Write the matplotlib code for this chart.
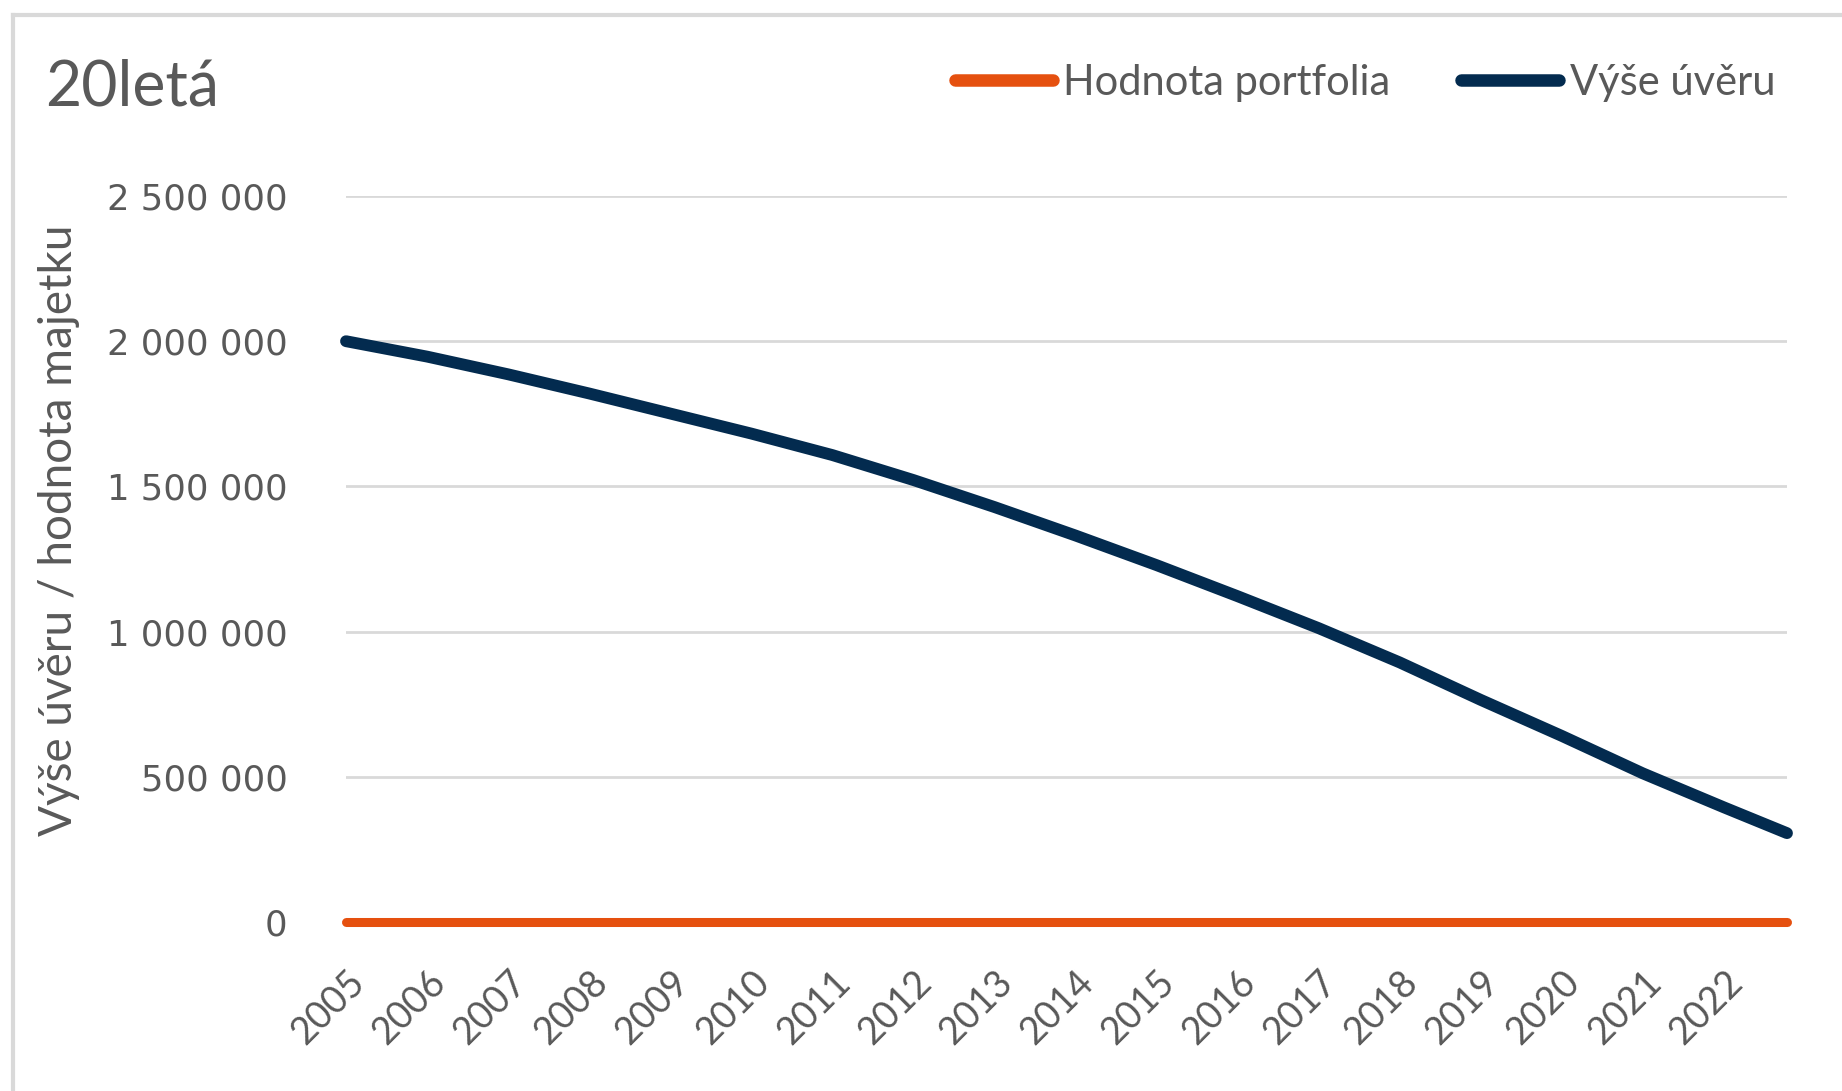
import matplotlib
matplotlib.use("Agg")
import matplotlib.pyplot as plt
from matplotlib.lines import Line2D
from matplotlib.ticker import FuncFormatter

# data (value at the start of each year, last point = end of series)
years = [2005, 2006, 2007, 2008, 2009, 2010, 2011, 2012, 2013, 2014,
         2015, 2016, 2017, 2018, 2019, 2020, 2021, 2022, 2022.78]
loan = [2000000, 1947000, 1886000, 1820000, 1751000, 1682000, 1608000, 1522000,
        1429000, 1331000, 1229000, 1122000, 1012000, 894000, 765000, 641000,
        512000, 395000, 306000]
portfolio = [0] * len(years)
tick_years = list(range(2005, 2023))
y_ticks = [0, 500000, 1000000, 1500000, 2000000, 2500000]

c_orange = '#E5500F'
c_blue = '#032B4F'
c_text = '#595959'
c_grid = '#D9D9D9'

W, H = 1842, 1091
fig = plt.figure(figsize=(W / 100, H / 100), dpi=100)
ax = fig.add_axes([346 / W, 1 - 922 / H, (1787 - 346) / W, (922 - 196) / H])

# outer chart border (cropped on right and bottom)
fig.add_artist(Line2D([13 / W, 13 / W], [0, 1 - 15 / H], color='#D9D9D9', lw=3))
fig.add_artist(Line2D([13 / W, 1], [1 - 15 / H, 1 - 15 / H], color='#D9D9D9', lw=3))

ax.plot(years, portfolio, color=c_orange, lw=6.5, solid_capstyle='round',
        label='Hodnota portfolia', clip_on=False, zorder=3)
ax.plot(years, loan, color=c_blue, lw=8.5, solid_capstyle='round',
        label='Výše úvěru', clip_on=False, zorder=4)

ax.set_xlim(2005, 2022.78)
ax.set_ylim(0, 2500000)
ax.set_yticks(y_ticks)
ax.yaxis.set_major_formatter(FuncFormatter(lambda v, p: f'{int(v):,}'.replace(',', ' ')))
ax.set_xticks(tick_years)
ax.set_xticklabels([str(y) for y in tick_years], rotation=45, ha='right',
                   rotation_mode='anchor', fontfamily='Lato', fontsize=27, color=c_text)
for lab in ax.get_yticklabels():
    lab.set_fontfamily('DejaVu Sans')
    lab.set_fontsize(25.5)
    lab.set_color(c_text)

ax.tick_params(axis='both', length=0)
ax.tick_params(axis='y', pad=42)
ax.tick_params(axis='x', pad=30)
ax.grid(axis='y', color=c_grid, lw=2)
ax.set_axisbelow(True)
for s in ax.spines.values():
    s.set_visible(False)

fig.text(45 / W, 1 - 88 / H, '20letá', fontfamily='Lato', fontsize=45,
         color=c_text, va='center', ha='left')
fig.text(59 / W, 1 - 530 / H, 'Výše úvěru / hodnota majetku', fontfamily='Lato',
         fontsize=33, color=c_text, rotation=90, va='center', ha='center')

leg = fig.legend(loc='center right', bbox_to_anchor=(1796 / W, 1 - 83 / H), ncol=2,
                 frameon=False, handlelength=2.35, handletextpad=0.25,
                 columnspacing=1.7, borderpad=0,
                 prop={'family': 'Lato', 'size': 30})
for t in leg.get_texts():
    t.set_color(c_text)
for h in leg.get_lines():
    h.set_linewidth(9)
    h.set_solid_capstyle('round')

fig.savefig('out.png', dpi=100, facecolor='white')
